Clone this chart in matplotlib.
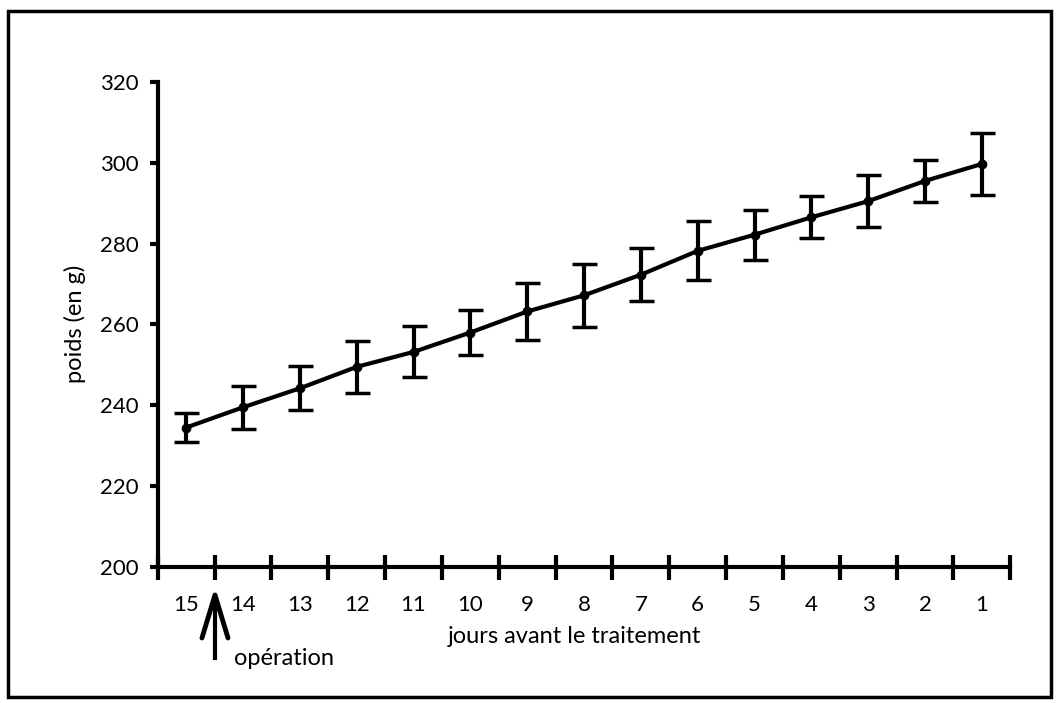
import matplotlib.pyplot as plt
from matplotlib.patches import Rectangle
import numpy as np

plt.rcParams['font.family'] = ['Lato', 'DejaVu Sans']

# jours avant le traitement (15 -> 1), poids moyen et erreur
jours = ["15", "14", "13", "12", "11", "10", "9", "8", "7", "6", "5", "4", "3", "2", "1"]
poids = [234.5, 239.5, 244.2, 249.5, 253.2, 258.0, 263.2, 267.2, 272.3, 278.2, 282.2, 286.5, 290.5, 295.5, 299.7]
erreur = [3.6, 5.3, 5.4, 6.5, 6.3, 5.6, 7.0, 7.8, 6.5, 7.3, 6.2, 5.2, 6.4, 5.3, 7.7]
yticks = [200, 220, 240, 260, 280, 300, 320]

fig = plt.figure(figsize=(10.59, 7.03), dpi=100)
ax = fig.add_axes([0.149, 0.1935, 0.805, 0.69])

x = np.arange(len(jours))
ax.errorbar(x, poids, yerr=erreur, color='black', lw=3, marker='o', ms=6,
            elinewidth=3, capsize=9, capthick=2.5)

ax.set_xlim(-0.5, len(jours) - 0.5)
ax.set_ylim(200, 320)

# cadre: seulement les axes gauche et bas
for s in ['top', 'right']:
    ax.spines[s].set_visible(False)
for s in ['left', 'bottom']:
    ax.spines[s].set_linewidth(3)

ax.set_yticks(yticks)
ax.set_yticklabels([str(v) for v in yticks], fontsize=16)
ax.tick_params(axis='y', length=6, width=3, pad=8)

# graduations entre les jours, étiquettes au centre
ax.set_xticks(np.arange(-0.5, len(jours), 1.0))
ax.set_xticklabels([])
ax.tick_params(axis='x', direction='inout', length=18, width=3)
ax.set_xticks(x, minor=True)
ax.set_xticklabels(jours, minor=True, fontsize=16)
ax.tick_params(axis='x', which='minor', length=0, pad=20)

fig.text(0.071, 0.54, "poids (en g)", rotation=90, fontsize=17, ha='center', va='center')
fig.text(0.423, 0.094, "jours avant le traitement", fontsize=17, ha='left', va='center')
fig.text(0.221, 0.064, "opération", fontsize=17, ha='left', va='center')

# flèche de l'opération
fig.add_artist(plt.Line2D([0.203, 0.203], [0.064, 0.15], color='black', lw=3))
fig.add_artist(plt.Line2D([0.1907, 0.203, 0.2153], [0.0925, 0.1536, 0.0925],
                          color='black', lw=3.5, solid_joinstyle='round',
                          solid_capstyle='round'))

# bordure de la figure
fig.add_artist(Rectangle((0.008, 0.008), 0.984, 0.977, transform=fig.transFigure,
                         fill=False, lw=2.5, edgecolor='black'))

fig.savefig('out.png', dpi=100)
